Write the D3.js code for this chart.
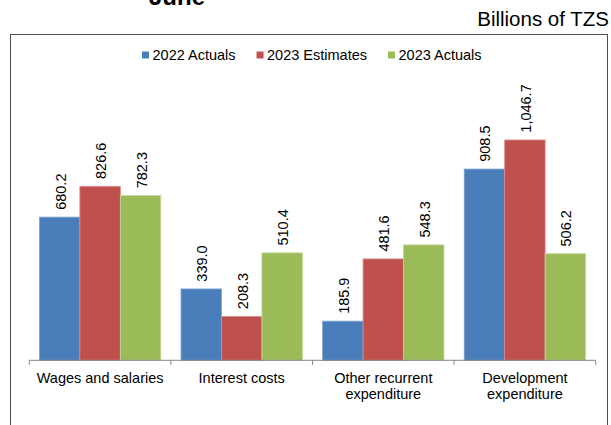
<!DOCTYPE html>
<html>
<head>
<meta charset="utf-8">
<script src="https://cdn.jsdelivr.net/npm/d3@7"></script>
<style>
  html, body { margin: 0; padding: 0; background: #fff; }
  svg { display: block; }
  text { font-family: "Liberation Sans", Arial, sans-serif; fill: #000; }
</style>
</head>
<body>
<svg id="chart" width="611" height="425"></svg>
<script>
// Expenditure by category, billions of TZS
const categories = [
  ["Wages and salaries"],
  ["Interest costs"],
  ["Other recurrent", "expenditure"],
  ["Development", "expenditure"]
];
const seriesNames = ["2022 Actuals", "2023 Estimates", "2023 Actuals"];
const actuals2022 = [680.2, 339.0, 185.9, 908.5];
const estimates2023 = [826.6, 208.3, 481.6, 1046.7];
const actuals2023 = [782.3, 510.4, 548.3, 506.2];
const seriesColors = ["#4a7ebb", "#c0504d", "#9bbb59"];
const seriesEdges = ["#7fa3d3", "#d98b89", "#c3d89d"];

const seriesValues = [actuals2022, estimates2023, actuals2023];
const fmt = d3.format(",.1f");

const svg = d3.select("#chart");

// Title (only its lower part falls inside the frame)
svg.append("text")
  .attr("x", 177).attr("y", 5)
  .attr("text-anchor", "middle")
  .style("font-size", "24px").style("font-weight", "bold")
  .text("June");

// Unit note
svg.append("text")
  .attr("x", 609).attr("y", 25.5)
  .attr("text-anchor", "end")
  .style("font-size", "20.5px")
  .text("Billions of TZS");

// Chart frame
svg.append("rect")
  .attr("x", 10.5).attr("y", 34.5)
  .attr("width", 597).attr("height", 420)
  .attr("fill", "none")
  .attr("stroke", "#4d4d4d").attr("stroke-width", 1);

// Scales
const x0 = d3.scaleBand()
  .domain(d3.range(categories.length))
  .range([29.3, 595.7])
  .paddingInner(0).paddingOuter(0);
const x1 = d3.scaleBand()
  .domain(d3.range(seriesNames.length))
  .range([0, x0.bandwidth()])
  .paddingOuter(0.25).paddingInner(0);
const y = d3.scaleLinear().domain([0, 1200]).range([360.3, 107.7]);

// Bars
const groups = svg.append("g").selectAll("g")
  .data(categories.map((c, i) => i))
  .join("g")
  .attr("transform", i => `translate(${x0(i)},0)`);

groups.selectAll("rect")
  .data(i => seriesValues.map((vals, s) => ({ s, v: vals[i] })))
  .join("rect")
  .attr("x", d => x1(d.s))
  .attr("width", x1.bandwidth())
  .attr("y", d => y(d.v))
  .attr("height", d => y(0) - y(d.v))
  .attr("fill", d => seriesColors[d.s])
  .attr("stroke", d => seriesEdges[d.s])
  .attr("stroke-width", 0.8);

// Value labels, rotated above each bar
groups.selectAll("text.val")
  .data(i => seriesValues.map((vals, s) => ({ s, v: vals[i] })))
  .join("text")
  .attr("class", "val")
  .attr("transform", d => `translate(${x1(d.s) + x1.bandwidth() / 2 + 6},${y(d.v) - 7.3}) rotate(-90)`)
  .attr("text-anchor", "start")
  .style("font-size", "14.5px")
  .text(d => fmt(d.v));

// Category axis
const axisG = svg.append("g").attr("transform", `translate(0,${y(0)})`);
axisG.append("line")
  .attr("x1", x0.range()[0]).attr("x2", x0.range()[1])
  .attr("stroke", "#868686").attr("stroke-width", 1);
const tickPositions = d3.range(categories.length + 1).map(i => x0.range()[0] + i * x0.step());
axisG.selectAll("line.tick")
  .data(tickPositions)
  .join("line")
  .attr("class", "tick")
  .attr("x1", d => d).attr("x2", d => d)
  .attr("y1", 0).attr("y2", 4.5)
  .attr("stroke", "#868686").attr("stroke-width", 1);

const catLabels = axisG.selectAll("text.cat")
  .data(categories)
  .join("text")
  .attr("class", "cat")
  .attr("x", (c, i) => x0(i) + x0.bandwidth() / 2)
  .attr("y", 23)
  .attr("text-anchor", "middle")
  .style("font-size", "14.5px");
catLabels.selectAll("tspan")
  .data(c => c)
  .join("tspan")
  .attr("x", function () { return this.parentNode.getAttribute("x"); })
  .attr("dy", (d, j) => j === 0 ? 0 : 15.4)
  .text(d => d);

// Legend
const legend = svg.append("g");
let lx = 142;
seriesNames.forEach((name, s) => {
  legend.append("rect")
    .attr("x", lx).attr("y", 51.5)
    .attr("width", 7).attr("height", 7)
    .attr("fill", seriesColors[s]);
  const t = legend.append("text")
    .attr("x", lx + 10.5).attr("y", 60)
    .style("font-size", "14.5px")
    .text(name);
  lx += 10.5 + t.node().getComputedTextLength() + 21;
});
</script>
</body>
</html>
